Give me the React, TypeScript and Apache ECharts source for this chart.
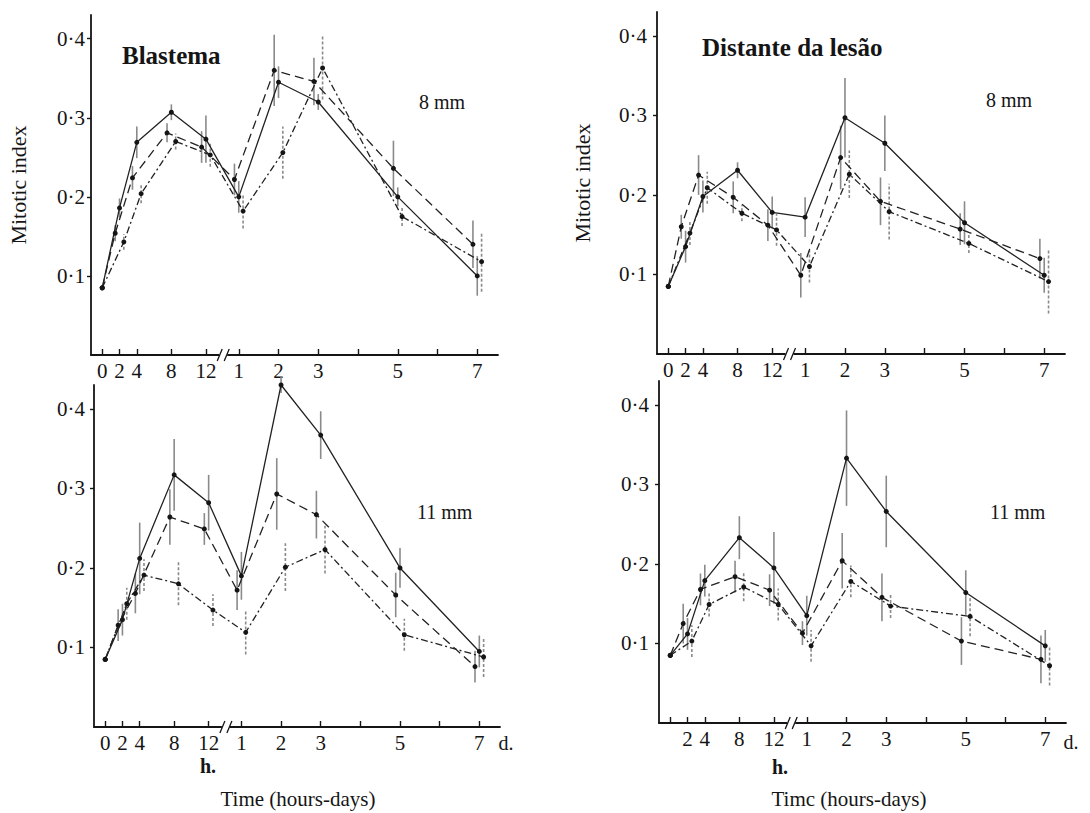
import React, { useEffect, useRef } from "react";
import * as echarts from "echarts";

// ---- time axis (broken: hours, then days) ----
const timeUnit = ["h", "h", "h", "h", "h", "d", "d", "d", "d", "d"];
const timeValue = [0, 2, 4, 8, 12, 1, 2, 3, 5, 7];
const hourTicks = [0, 2, 4, 8, 12];
const dayTicks = [1, 2, 3, 4, 5, 6, 7];
const hourLabels = [0, 2, 4, 8, 12];
const dayLabels = [1, 2, 3, 5, 7];
const yTicks = [0.1, 0.2, 0.3, 0.4];

// ---- Blastema, 8 mm ----
const bl8Solid = [0.085, 0.186, 0.269, 0.307, 0.273, 0.2, 0.345, 0.32, 0.2, 0.1];
const bl8Dashed = [0.085, 0.154, 0.224, 0.281, 0.263, 0.222, 0.36, 0.346, 0.236, 0.14];
const bl8DashDot = [0.085, 0.143, 0.204, 0.27, 0.253, 0.182, 0.256, 0.363, 0.175, 0.118];
const bl8SolidErr = [0, 0.012, 0.02, 0.01, 0.03, 0.02, 0.02, 0.01, 0.012, 0.025];
const bl8DashedErr = [0, 0.01, 0.015, 0.012, 0.02, 0.02, 0.045, 0.03, 0.035, 0.03];
const bl8DashDotErr = [0, 0.01, 0.012, 0.01, 0.015, 0.022, 0.033, 0.04, 0.012, 0.038];

// ---- Distante da lesão, 8 mm ----
const di8Solid = [0.085, 0.135, 0.198, 0.231, 0.178, 0.172, 0.297, 0.265, 0.165, 0.099];
const di8Dashed = [0.085, 0.16, 0.225, 0.197, 0.162, 0.099, 0.247, 0.192, 0.157, 0.12];
const di8DashDot = [0.085, 0.152, 0.209, 0.177, 0.156, 0.11, 0.226, 0.179, 0.139, 0.091];
const di8SolidErr = [0, 0.02, 0.02, 0.01, 0.02, 0.025, 0.05, 0.035, 0.027, 0.022];
const di8DashedErr = [0, 0.015, 0.025, 0.02, 0.02, 0.028, 0.04, 0.03, 0.02, 0.025];
const di8DashDotErr = [0, 0.015, 0.02, 0.01, 0.02, 0.02, 0.03, 0.035, 0.012, 0.04];

// ---- Blastema, 11 mm ----
const bl11Solid = [0.085, 0.135, 0.212, 0.317, 0.282, 0.19, 0.43, 0.367, 0.2, 0.095];
const bl11Dashed = [0.085, 0.128, 0.168, 0.264, 0.249, 0.172, 0.293, 0.267, 0.166, 0.076];
const bl11DashDot = [0.085, 0.155, 0.191, 0.18, 0.147, 0.119, 0.201, 0.223, 0.116, 0.088];
const bl11SolidErr = [0, 0.02, 0.045, 0.045, 0.035, 0.03, 0.01, 0.03, 0.025, 0.02];
const bl11DashedErr = [0, 0.02, 0.025, 0.035, 0.02, 0.025, 0.045, 0.03, 0.028, 0.02];
const bl11DashDotErr = [0, 0.02, 0.02, 0.027, 0.02, 0.028, 0.03, 0.03, 0.02, 0.025];

// ---- Distante da lesão, 11 mm ----
const di11Solid = [0.085, 0.112, 0.179, 0.233, 0.195, 0.135, 0.333, 0.266, 0.164, 0.097];
const di11Dashed = [0.085, 0.125, 0.168, 0.184, 0.167, 0.113, 0.204, 0.158, 0.103, 0.08];
const di11DashDot = [0.085, 0.103, 0.149, 0.171, 0.149, 0.097, 0.178, 0.147, 0.134, 0.072];
const di11SolidErr = [0, 0.02, 0.02, 0.027, 0.045, 0.025, 0.06, 0.045, 0.028, 0.02];
const di11DashedErr = [0, 0.025, 0.02, 0.02, 0.02, 0.015, 0.035, 0.03, 0.03, 0.03];
const di11DashDotErr = [0, 0.02, 0.015, 0.018, 0.02, 0.02, 0.02, 0.015, 0.025, 0.025];

// axis transform for the broken time axis
const DAY0 = 15.8;
const DAY_STEP = 4.6;
const BREAK_POS = 14.0;
const hourPos = (h: number) => h;
const dayPos = (d: number) => DAY0 + (d - 1) * DAY_STEP;
const timePos = timeValue.map((v, i) => (timeUnit[i] === "h" ? hourPos(v) : dayPos(v)));

const SERIF = '"Liberation Serif", "DejaVu Serif", serif';
const INK = "#151515";

const panels = [
  {
    grid: { left: 91, top: 15, width: 407, height: 340 },
    series: [
      { v: bl8Solid, e: bl8SolidErr, kind: "solid" },
      { v: bl8Dashed, e: bl8DashedErr, kind: "dashed" },
      { v: bl8DashDot, e: bl8DashDotErr, kind: "dashdot" },
    ],
    yName: "Mitotic index",
    yNameGap: 62,
    labelMargin: 6,
    showZero: true,
  },
  {
    grid: { left: 657, top: 12, width: 408, height: 342 },
    series: [
      { v: di8Solid, e: di8SolidErr, kind: "solid" },
      { v: di8Dashed, e: di8DashedErr, kind: "dashed" },
      { v: di8DashDot, e: di8DashDotErr, kind: "dashdot" },
    ],
    yName: "Mitotic index",
    yNameGap: 64,
    labelMargin: 10,
    showZero: true,
  },
  {
    grid: { left: 94, top: 385, width: 406, height: 342 },
    series: [
      { v: bl11Solid, e: bl11SolidErr, kind: "solid" },
      { v: bl11Dashed, e: bl11DashedErr, kind: "dashed" },
      { v: bl11DashDot, e: bl11DashDotErr, kind: "dashdot" },
    ],
    yName: "",
    yNameGap: 0,
    labelMargin: 9,
    showZero: true,
  },
  {
    grid: { left: 659, top: 381, width: 407, height: 342 },
    series: [
      { v: di11Solid, e: di11SolidErr, kind: "solid" },
      { v: di11Dashed, e: di11DashedErr, kind: "dashed" },
      { v: di11DashDot, e: di11DashDotErr, kind: "dashdot" },
    ],
    yName: "",
    yNameGap: 0,
    labelMargin: 10,
    showZero: false,
  },
];

const lineDash: Record<string, any> = {
  solid: "solid",
  dashed: [9, 5],
  dashdot: [7, 3, 2, 3],
};
// small horizontal offsets that separate overlapping error bars (not at the common start point)
const jitter: Record<string, number> = { solid: 0, dashed: -0.5, dashdot: 0.5 };

function labelFor(v: number): string {
  for (const h of hourLabels) if (Math.abs(hourPos(h) - v) < 1e-6) return String(h);
  for (const d of dayLabels) if (Math.abs(dayPos(d) - v) < 1e-6) return String(d);
  return "";
}

function buildOption() {
  const grid: any[] = [];
  const xAxis: any[] = [];
  const yAxis: any[] = [];
  const series: any[] = [];
  const tickVals = [...hourTicks.map(hourPos), ...dayTicks.map(dayPos)];

  panels.forEach((p, i) => {
    grid.push({ ...p.grid, containLabel: false });
    const labelVals = [
      ...hourLabels.filter((h) => p.showZero || h !== 0).map(hourPos),
      ...dayLabels.map(dayPos),
    ];
    xAxis.push({
      type: "value",
      gridIndex: i,
      min: -1.3,
      max: 45.8,
      axisLine: { show: true, onZero: false, lineStyle: { color: INK, width: 1.8 } },
      axisTick: {
        show: true,
        inside: true,
        length: 6,
        customValues: tickVals,
        lineStyle: { color: INK, width: 1.4 },
      },
      axisLabel: {
        show: true,
        customValues: labelVals,
        formatter: (v: number) => labelFor(v),
        margin: 5,
        fontSize: 21,
        fontFamily: SERIF,
        color: INK,
      },
      splitLine: { show: false },
    });
    yAxis.push({
      type: "value",
      gridIndex: i,
      min: 0,
      max: 0.43,
      name: p.yName,
      nameLocation: "middle",
      nameGap: p.yNameGap,
      nameRotate: 90,
      nameTextStyle: { fontSize: 22, fontFamily: SERIF, color: INK },
      axisLine: { show: true, onZero: false, lineStyle: { color: INK, width: 1.8 } },
      axisTick: { show: true, length: 4, customValues: yTicks, lineStyle: { color: INK, width: 1.4 } },
      axisLabel: {
        show: true,
        customValues: yTicks,
        formatter: (v: number) => v.toFixed(1).replace(".", "·"),
        margin: p.labelMargin,
        fontSize: 21,
        fontFamily: SERIF,
        color: INK,
      },
      splitLine: { show: false },
    });

    p.series.forEach((s) => {
      const off = jitter[s.kind];
      const xs = timePos.map((t, k) => (k === 0 ? t : t + off));
      const errData = s.v
        .map((v, k) => [xs[k], v - s.e[k], v + s.e[k], s.e[k]])
        .filter((r) => r[3] > 0);
      series.push({
        type: "custom",
        xAxisIndex: i,
        yAxisIndex: i,
        silent: true,
        z: 2,
        encode: { x: 0, y: [1, 2] },
        data: errData,
        renderItem: (params: any, api: any) => {
          const x = api.value(0);
          const lo = api.coord([x, api.value(1)]);
          const hi = api.coord([x, api.value(2)]);
          return {
            type: "line",
            shape: { x1: lo[0], y1: lo[1], x2: hi[0], y2: hi[1] },
            style: {
              stroke: "#8a8a8a",
              lineWidth: 1.6,
              lineDash: s.kind === "dashdot" ? [3, 2] : null,
            },
          };
        },
      });
      series.push({
        type: "line",
        xAxisIndex: i,
        yAxisIndex: i,
        silent: true,
        z: 3,
        data: s.v.map((v, k) => [xs[k], v]),
        symbol: "circle",
        symbolSize: 5,
        showSymbol: true,
        itemStyle: { color: INK },
        lineStyle: { color: "#222", width: 1.3, type: lineDash[s.kind] },
      });
    });

    // axis break marks
    series.push({
      type: "custom",
      xAxisIndex: i,
      yAxisIndex: i,
      silent: true,
      clip: false,
      z: 5,
      data: [[BREAK_POS, 0]],
      renderItem: (params: any, api: any) => {
        const c = api.coord([api.value(0), api.value(1)]);
        return {
          type: "group",
          children: [
            { type: "rect", shape: { x: c[0] - 4, y: c[1] - 3, width: 8, height: 6 }, style: { fill: "#fff" } },
            { type: "line", shape: { x1: c[0] - 6, y1: c[1] + 6, x2: c[0] - 1, y2: c[1] - 6 }, style: { stroke: INK, lineWidth: 1.3 } },
            { type: "line", shape: { x1: c[0] + 1, y1: c[1] + 6, x2: c[0] + 6, y2: c[1] - 6 }, style: { stroke: INK, lineWidth: 1.3 } },
          ],
        };
      },
    });
  });

  const txt = (text: string, x: number, y: number, font: string, align = "left") => ({
    type: "text",
    x,
    y,
    silent: true,
    style: {
      text,
      font,
      fill: INK,
      align,
      textAlign: align,
      verticalAlign: "middle",
      textVerticalAlign: "middle",
    },
  });

  const graphic = [
    txt("Blastema", 122, 55, `bold 25px ${SERIF}`),
    txt("Distante da lesão", 702, 47, `bold 25px ${SERIF}`),
    txt("8 mm", 419, 102, `20px ${SERIF}`),
    txt("8 mm", 986, 100, `20px ${SERIF}`),
    txt("11 mm", 417, 512, `20px ${SERIF}`),
    txt("11 mm", 990, 512, `20px ${SERIF}`),
    txt("h.", 208, 766, `bold 20px ${SERIF}`, "center"),
    txt("h.", 780, 767, `bold 20px ${SERIF}`, "center"),
    txt("d.", 506, 743, `20px ${SERIF}`, "center"),
    txt("d.", 1071, 742, `20px ${SERIF}`, "center"),
    txt("Time (hours-days)", 298, 799, `21px ${SERIF}`, "center"),
    txt("Timc (hours-days)", 849, 799, `21px ${SERIF}`, "center"),
  ];

  return {
    animation: false,
    backgroundColor: "#ffffff",
    grid,
    xAxis,
    yAxis,
    series,
    graphic,
  };
}

export default function App() {
  const ref = useRef<HTMLDivElement>(null);
  useEffect(() => {
    if (!ref.current) return;
    const chart = echarts.init(ref.current, null, { renderer: "svg" });
    chart.setOption(buildOption());
    return () => chart.dispose();
  }, []);
  return (
    <div
      ref={ref}
      style={{ position: "fixed", left: 0, top: 0, width: 1090, height: 813, background: "#fff" }}
    />
  );
}
